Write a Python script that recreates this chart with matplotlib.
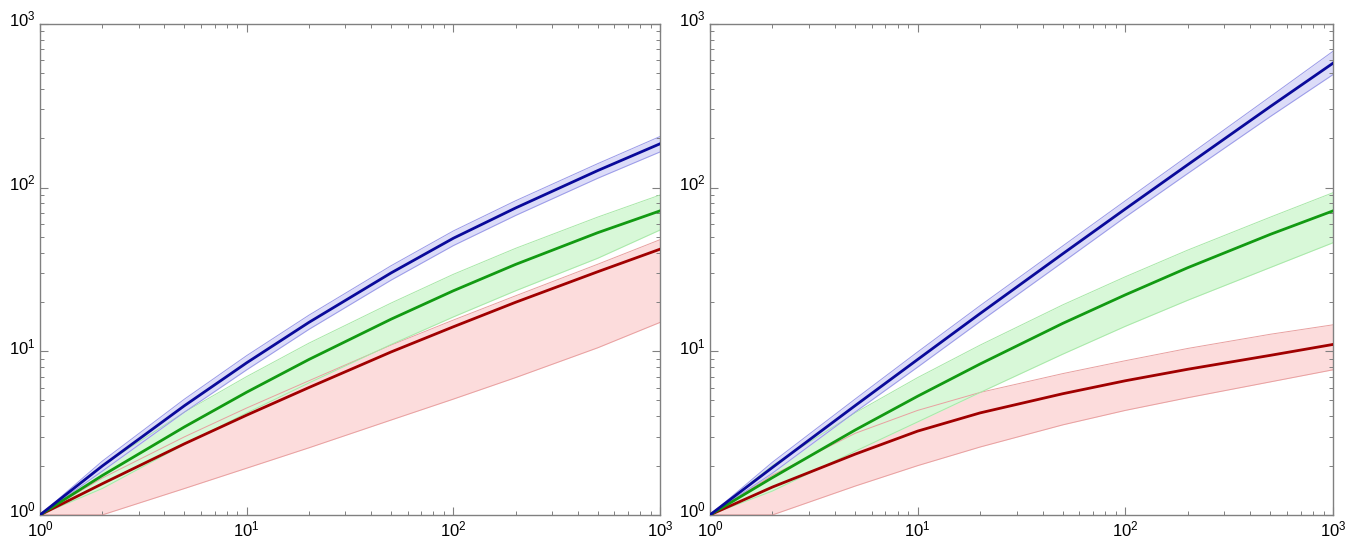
import matplotlib
matplotlib.use("Agg")
import matplotlib.pyplot as plt
from matplotlib.transforms import ScaledTranslation
from matplotlib.ticker import FixedLocator, FixedFormatter, LogLocator, NullFormatter

plt.rcParams['font.family'] = ['Liberation Sans', 'DejaVu Sans']
plt.rcParams['mathtext.fontset'] = 'custom'
plt.rcParams['mathtext.rm'] = 'Liberation Sans'

# sample points along the x axis
x = [1, 2, 5, 10, 20, 50, 100, 200, 500, 1000]

# left panel
left_blue = [1, 1.99, 4.65, 8.5, 15.0, 30.1, 49, 75, 127, 185]
left_blue_lo = [1, 1.85, 4.25, 7.7, 13.6, 27.2, 44.2, 67.5, 114, 165]
left_blue_hi = [1, 2.13, 5.1, 9.4, 16.6, 33.3, 54.3, 83, 140, 205]
left_green = [1, 1.74, 3.45, 5.62, 8.9, 15.7, 23.4, 33.9, 53, 72]
left_green_lo = [1, 1.45, 2.7, 4.2, 6.4, 11.0, 16.2, 23.4, 37, 55]
left_green_hi = [1, 2.0, 4.25, 7.0, 11.2, 19.7, 29.5, 42.5, 66, 90]
left_red = [1, 1.55, 2.72, 4.07, 6.0, 9.9, 14.1, 19.9, 30.6, 42]
left_red_lo = [1, 1, 1.45, 1.93, 2.57, 3.8, 5.1, 6.9, 10.5, 15]
left_red_hi = [1, 1.68, 3.0, 4.5, 6.6, 10.9, 15.5, 21.8, 34, 48]

# right panel
right_blue = [1, 1.95, 4.65, 8.9, 17.0, 39.4, 74, 138, 313, 575]
right_blue_lo = [1, 1.8, 4.25, 8.0, 15.2, 35, 66, 122, 272, 490]
right_blue_hi = [1, 2.1, 5.1, 9.9, 19.0, 44, 83, 156, 360, 680]
right_green = [1, 1.69, 3.30, 5.31, 8.36, 14.8, 22.1, 32.4, 51.8, 72]
right_green_lo = [1, 1.4, 2.45, 3.7, 5.6, 9.6, 14.2, 20.5, 32.5, 46]
right_green_hi = [1, 2.0, 4.2, 6.9, 10.9, 19.2, 28.5, 41.5, 66, 93]
right_red = [1, 1.48, 2.35, 3.25, 4.2, 5.5, 6.6, 7.76, 9.44, 11.0]
right_red_lo = [1, 1, 1.5, 2.0, 2.6, 3.55, 4.35, 5.2, 6.5, 7.7]
right_red_hi = [1, 1.75, 3.15, 4.35, 5.6, 7.3, 8.75, 10.4, 12.7, 14.5]

decades = [1, 10, 100, 1000]
decade_labels = [r'$\mathregular{10^{0}}$', r'$\mathregular{10^{1}}$',
                 r'$\mathregular{10^{2}}$', r'$\mathregular{10^{3}}$']

# (line colour, fill colour, edge colour)
styles = {
    'blue': ('#0a0a9a', '#dcdcf8', '#9a9ae8'),
    'green': ('#129a12', '#d8f8d8', '#a8e8a8'),
    'red': ('#a00000', '#fcdcdc', '#e8a0a0'),
}


def draw_panel(ax, series):
    # bands first (red at the bottom of the stack), then the lines
    for name, mid, lo, hi in series:
        line_c, fill_c, edge_c = styles[name]
        ax.fill_between(x, lo, hi, color=fill_c, lw=0, zorder=1)
        ax.plot(x, lo, color=edge_c, lw=0.7, zorder=2)
        ax.plot(x, hi, color=edge_c, lw=0.7, zorder=2)
    for name, mid, lo, hi in series:
        ax.plot(x, mid, color=styles[name][0], lw=2.0, zorder=3)

    ax.set_xscale('log')
    ax.set_yscale('log')
    ax.set_xlim(1, 1000)
    ax.set_ylim(1, 1000)
    for axis in (ax.xaxis, ax.yaxis):
        axis.set_major_locator(FixedLocator(decades))
        axis.set_major_formatter(FixedFormatter(decade_labels))
        axis.set_minor_locator(LogLocator(base=10, subs=range(2, 10)))
        axis.set_minor_formatter(NullFormatter())
    ax.tick_params(which='both', direction='in', top=True, right=True,
                   color='#808080', labelsize=12)
    ax.tick_params(which='major', length=6, width=0.8)
    ax.tick_params(which='minor', length=3, width=0.7)
    ax.tick_params(axis='x', pad=3.5)
    ax.tick_params(axis='y', pad=3)
    # lift the y labels a little so the two 10^0 labels at the corner clear
    lift = ScaledTranslation(0, 4 / 72, fig.dpi_scale_trans)
    for tick in ax.yaxis.get_major_ticks():
        tick.label1.set_transform(tick.label1.get_transform() + lift)
    for s in ax.spines.values():
        s.set_color('#808080')
        s.set_linewidth(1.0)


fig = plt.figure(figsize=(13.58, 5.42), dpi=100)
ax1 = fig.add_axes([0.0295, 0.050, 0.4565, 0.906])
ax2 = fig.add_axes([0.5228, 0.050, 0.4588, 0.906])

draw_panel(ax1, [
    ('red', left_red, left_red_lo, left_red_hi),
    ('green', left_green, left_green_lo, left_green_hi),
    ('blue', left_blue, left_blue_lo, left_blue_hi),
])
draw_panel(ax2, [
    ('red', right_red, right_red_lo, right_red_hi),
    ('green', right_green, right_green_lo, right_green_hi),
    ('blue', right_blue, right_blue_lo, right_blue_hi),
])

fig.savefig('out.png', dpi=100)
